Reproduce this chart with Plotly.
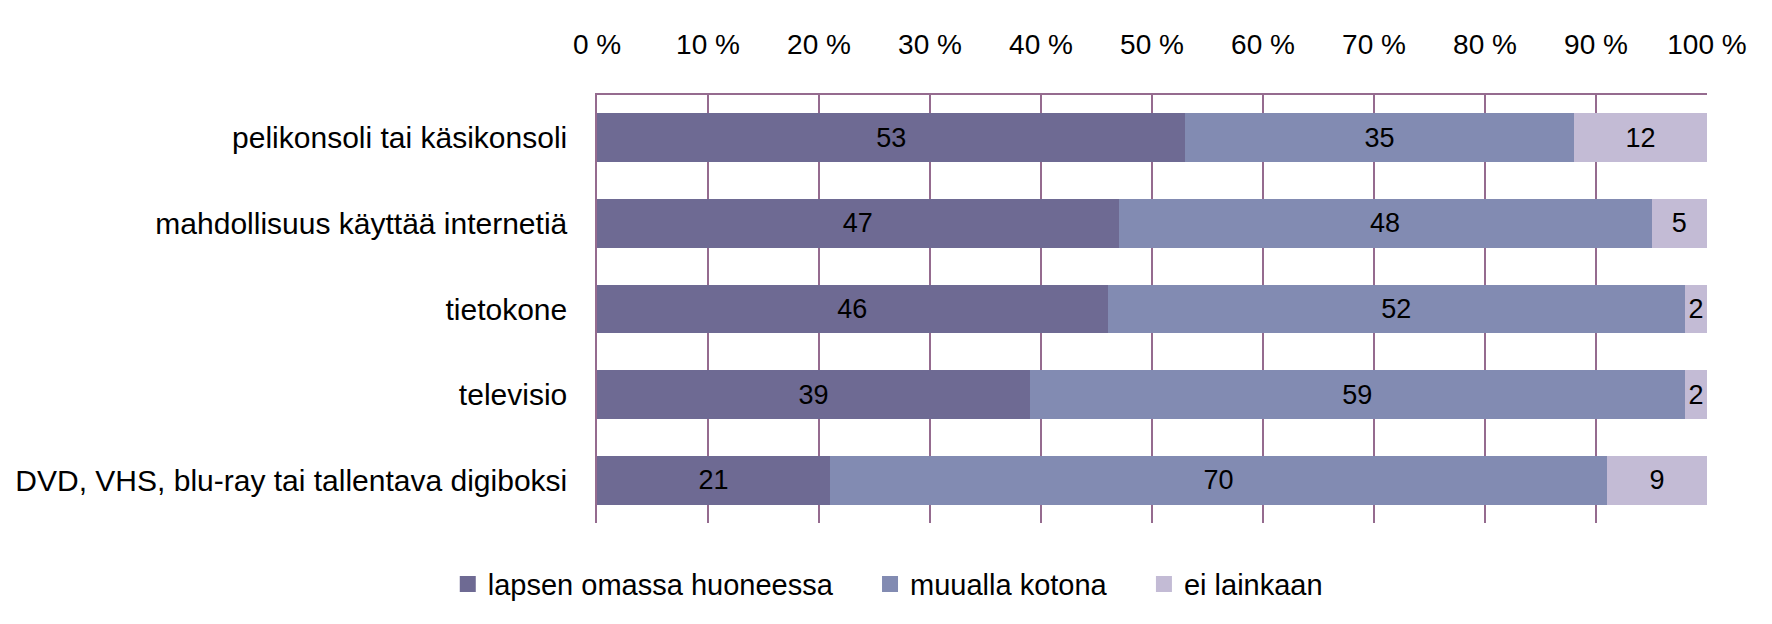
import plotly.graph_objects as go

categories = [
    "pelikonsoli tai käsikonsoli",
    "mahdollisuus käyttää internetiä",
    "tietokone",
    "televisio",
    "DVD, VHS, blu-ray tai tallentava digiboksi",
]
series_names = ["lapsen omassa huoneessa", "muualla kotona", "ei lainkaan"]
own_room = [53, 47, 46, 39, 21]
elsewhere = [35, 48, 52, 59, 70]
not_at_all = [12, 5, 2, 2, 9]
tick_vals = [0, 10, 20, 30, 40, 50, 60, 70, 80, 90, 100]
tick_text = ["0 %", "10 %", "20 %", "30 %", "40 %", "50 %", "60 %", "70 %", "80 %", "90 %", "100 %"]

colors = ["#6E6A93", "#828BB2", "#C3BBD5"]
FONT = "Liberation Sans"
FS_CAT = 30
FS_TICK = 28
FS_NUM = 27
FS_LEG = 29
GRID = "#956B8F"
PAD = "\u00a0" * 4

fig = go.Figure()
for name, vals, col in zip(series_names, [own_room, elsewhere, not_at_all], colors):
    fig.add_trace(go.Bar(
        y=categories, x=vals, name=name, orientation="h", showlegend=False,
        marker=dict(color=col, line=dict(width=0)),
        text=[str(v) for v in vals], textposition="inside",
        insidetextanchor="middle", textangle=0, constraintext="none",
        textfont=dict(family=FONT, size=FS_NUM, color="black"),
    ))

# legend entries with larger square swatches
for i, (name, col) in enumerate(zip(series_names, colors)):
    label = name + (PAD if i < len(series_names) - 1 else "")
    fig.add_trace(go.Scatter(
        x=[None], y=[None], mode="markers", name=label, showlegend=True,
        marker=dict(symbol="square", size=19, color=col),
        hoverinfo="skip",
    ))

fig.update_layout(
    barmode="stack", bargap=0.43,
    width=1772, height=624,
    margin=dict(l=597, r=65, t=95, b=101),
    paper_bgcolor="white", plot_bgcolor="white",
    font=dict(family=FONT, size=FS_CAT, color="black"),
    showlegend=True,
    legend=dict(orientation="h", xref="container", x=0.501, xanchor="center",
                yref="container", y=0.064, yanchor="middle",
                font=dict(family=FONT, size=FS_LEG), traceorder="normal",
                itemwidth=30, itemsizing="trace"),
    xaxis=dict(side="top", range=[0, 100], tickvals=tick_vals, ticktext=tick_text,
               tickfont=dict(family=FONT, size=FS_TICK),
               showgrid=True, gridcolor=GRID, gridwidth=1.5,
               showline=True, linecolor=GRID, linewidth=1.5, mirror=False,
               ticks="", ticklabelstandoff=28, zeroline=False, fixedrange=True),
    yaxis=dict(categoryorder="array", categoryarray=categories, autorange="reversed",
               tickfont=dict(family=FONT, size=FS_CAT),
               showgrid=False, showline=True, linecolor=GRID, linewidth=1.5,
               ticks="", ticklabelstandoff=22, zeroline=False),
)

fig.write_html("out.html")
